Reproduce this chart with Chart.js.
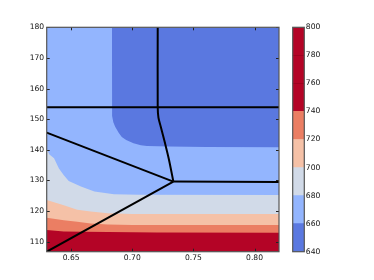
<!DOCTYPE html>
<html>
<head>
<meta charset="utf-8">
<script src="https://cdn.jsdelivr.net/npm/chart.js@4/dist/chart.umd.min.js"></script>
<style>
html,body{margin:0;padding:0;background:#fff;}
#wrap{position:relative;width:374px;height:280px;}
canvas{position:absolute;top:0;}
#main{left:0;}
#cbar{left:280px;}
</style>
</head>
<body>
<div id="wrap">
<canvas id="main" width="374" height="280"></canvas>
<canvas id="cbar" width="94" height="280"></canvas>
</div>
<script>
// ---- axis ranges & ticks ----
const xMin = 0.63, xMax = 0.82;
const yMin = 106.7, yMax = 180;
const xTicks = [0.65, 0.70, 0.75, 0.80];
const yTicks = [110, 120, 130, 140, 150, 160, 170, 180];

// ---- contour band boundaries (upper edge of each band) ----
// top band (640-660) fills everything above b1
const b1X = [0.63, 0.6834, 0.6835, 0.6845, 0.686, 0.689, 0.6914, 0.695, 0.701, 0.707, 0.712, 0.73, 0.76, 0.82];
const b1Y = [180, 180, 151, 149, 147.5, 145.5, 144.2, 143.2, 142.1, 141.5, 141.2, 141.1, 140.9, 140.8];
// 660-680 / 680-700 boundary
const b2X = [0.63, 0.632, 0.636, 0.640, 0.644, 0.648, 0.658, 0.669, 0.685, 0.705, 0.82];
const b2Y = [140.5, 138.5, 137.2, 133.9, 131.7, 129.8, 128.0, 126.4, 125.5, 125.3, 125.2];
// 680-700 / 700-720 boundary
const b3X = [0.63, 0.644, 0.655, 0.666, 0.68, 0.70, 0.82];
const b3Y = [123.6, 121.9, 120.4, 119.8, 119.3, 119.0, 119.0];
// 700-720 / 720-740 boundary
const b4X = [0.63, 0.644, 0.655, 0.666, 0.68, 0.70, 0.82];
const b4Y = [117.8, 117.0, 116.5, 115.9, 115.6, 115.4, 115.4];
// 720-740 / 740+ boundary
const b5X = [0.63, 0.644, 0.66, 0.68, 0.72, 0.82];
const b5Y = [113.8, 113.3, 113.2, 113.1, 113.0, 112.9];

// ---- phase boundary lines ----
const hTopX = [0.63, 0.82];
const hTopY = [153.9, 153.9];
const vertX = [0.7208, 0.7208, 0.7214, 0.7233, 0.7268, 0.7301, 0.7336];
const vertY = [180, 154, 150.5, 147.5, 142.1, 136.6, 129.6];
const hMidX = [0.7336, 0.82];
const hMidY = [129.6, 129.5];
const upLeftX = [0.63, 0.7336];
const upLeftY = [145.6, 129.6];
const lowLeftX = [0.63, 0.7336];
const lowLeftY = [106.7, 129.6];

// ---- colour bar ----
const levels = [640, 660, 680, 700, 720, 740, 760, 780, 800];
const cbTicks = [640, 660, 680, 700, 720, 740, 760, 780, 800];

const C = {
  b640: '#5a78e0',
  b660: '#93b5fe',
  b680: '#d1dae8',
  b700: '#f5c1a7',
  b720: '#eb7e63',
  b740: '#b40426'
};
const bandColors = [C.b640, C.b660, C.b680, C.b700, C.b720, C.b740, C.b740, C.b740];

const FONT = {family: '"DejaVu Sans", sans-serif', size: 7.6};

function pts(xs, ys){ return xs.map((x,i)=>({x:x, y:ys[i]})); }

function lineDs(xs, ys, tension){
  return {data: pts(xs, ys), showLine: true, borderColor: '#000', borderWidth: 2,
          pointRadius: 0, fill: false, tension: tension || 0};
}
function fillDs(xs, ys, col){
  return {data: pts(xs, ys), showLine: true, borderColor: col, borderWidth: 0,
          backgroundColor: col, pointRadius: 0, fill: 'start', tension: 0};
}

const frameTicks = {
  id: 'frameTicks',
  afterDatasetsDraw(chart){
    const ctx = chart.ctx, a = chart.chartArea;
    const xs = chart.scales.x, ys = chart.scales.y;
    ctx.save();
    ctx.strokeStyle = '#222';
    ctx.lineWidth = 1;
    const tl = 3;
    ctx.beginPath();
    xTicks.forEach(v=>{
      const p = Math.round(xs.getPixelForValue(v)) + 0.5;
      ctx.moveTo(p, a.bottom); ctx.lineTo(p, a.bottom - tl);
      ctx.moveTo(p, a.top); ctx.lineTo(p, a.top + tl);
    });
    yTicks.forEach(v=>{
      const p = Math.round(ys.getPixelForValue(v)) + 0.5;
      ctx.moveTo(a.left, p); ctx.lineTo(a.left + tl, p);
      ctx.moveTo(a.right, p); ctx.lineTo(a.right - tl, p);
    });
    ctx.stroke();
    ctx.strokeStyle = '#555';
    ctx.lineWidth = 1.2;
    ctx.strokeRect(a.left, a.top, a.right - a.left, a.bottom - a.top);
    ctx.restore();
  }
};

new Chart(document.getElementById('main'), {
  type: 'scatter',
  data: {
    datasets: [
      lineDs(hTopX, hTopY),
      lineDs(vertX, vertY, 0.3),
      lineDs(hMidX, hMidY),
      lineDs(upLeftX, upLeftY),
      lineDs(lowLeftX, lowLeftY),
      fillDs(b5X, b5Y, C.b740),
      fillDs(b4X, b4Y, C.b720),
      fillDs(b3X, b3Y, C.b700),
      fillDs(b2X, b2Y, C.b680),
      fillDs(b1X, b1Y, C.b660),
      fillDs([xMin, xMax], [yMax, yMax], C.b640)
    ]
  },
  options: {
    responsive: false,
    animation: false,
    devicePixelRatio: 1,
    layout: {padding: {top: 27.3, right: 95, left: 0, bottom: 0}},
    plugins: {legend: {display: false}, tooltip: {enabled: false}},
    scales: {
      x: {
        type: 'linear', min: xMin, max: xMax,
        grid: {display: false, drawTicks: false},
        border: {display: false},
        afterBuildTicks: s => { s.ticks = xTicks.map(v=>({value: v})); },
        afterFit: s => { s.height = 28.3; },
        ticks: {font: FONT, color: '#111', padding: 2, maxRotation: 0,
                callback: v => Number(v).toFixed(2)}
      },
      y: {
        type: 'linear', min: yMin, max: yMax,
        grid: {display: false, drawTicks: false},
        border: {display: false},
        afterBuildTicks: s => { s.ticks = yTicks.map(v=>({value: v})); },
        afterFit: s => { s.width = 46.7; },
        ticks: {font: FONT, color: '#111', padding: 2.5,
                callback: v => String(v)}
      }
    }
  },
  plugins: [frameTicks]
});

const cbFrame = {
  id: 'cbFrame',
  afterDatasetsDraw(chart){
    const ctx = chart.ctx, a = chart.chartArea, ys = chart.scales.y;
    ctx.save();
    ctx.strokeStyle = 'rgba(120,0,20,0.35)';
    ctx.lineWidth = 1;
    ctx.beginPath();
    [760, 780].forEach(v=>{
      const p = Math.round(ys.getPixelForValue(v)) + 0.5;
      ctx.moveTo(a.left, p); ctx.lineTo(a.right, p);
    });
    ctx.stroke();
    ctx.strokeStyle = '#555';
    ctx.lineWidth = 1.2;
    ctx.strokeRect(a.left, a.top, a.right - a.left, a.bottom - a.top);
    ctx.restore();
  }
};

const cbDatasets = [];
for (let i = 0; i < levels.length - 1; i++) {
  cbDatasets.push({data: [[levels[i], levels[i+1]]], backgroundColor: bandColors[i],
                   borderWidth: 0, barPercentage: 1, categoryPercentage: 1, grouped: false});
}

new Chart(document.getElementById('cbar'), {
  type: 'bar',
  data: {labels: [''], datasets: cbDatasets},
  options: {
    responsive: false,
    animation: false,
    devicePixelRatio: 1,
    layout: {padding: {top: 27.3, left: 12.7, right: 0, bottom: 28.3}},
    plugins: {legend: {display: false}, tooltip: {enabled: false}},
    scales: {
      x: {display: false},
      y: {
        position: 'right', min: levels[0], max: levels[levels.length-1],
        grid: {display: false, drawTicks: false},
        border: {display: false},
        afterBuildTicks: s => { s.ticks = cbTicks.map(v=>({value: v})); },
        afterFit: s => { s.width = 69.7; },
        ticks: {font: FONT, color: '#111', padding: 1.5, callback: v => String(v)}
      }
    }
  },
  plugins: [cbFrame]
});
</script>
</body>
</html>
